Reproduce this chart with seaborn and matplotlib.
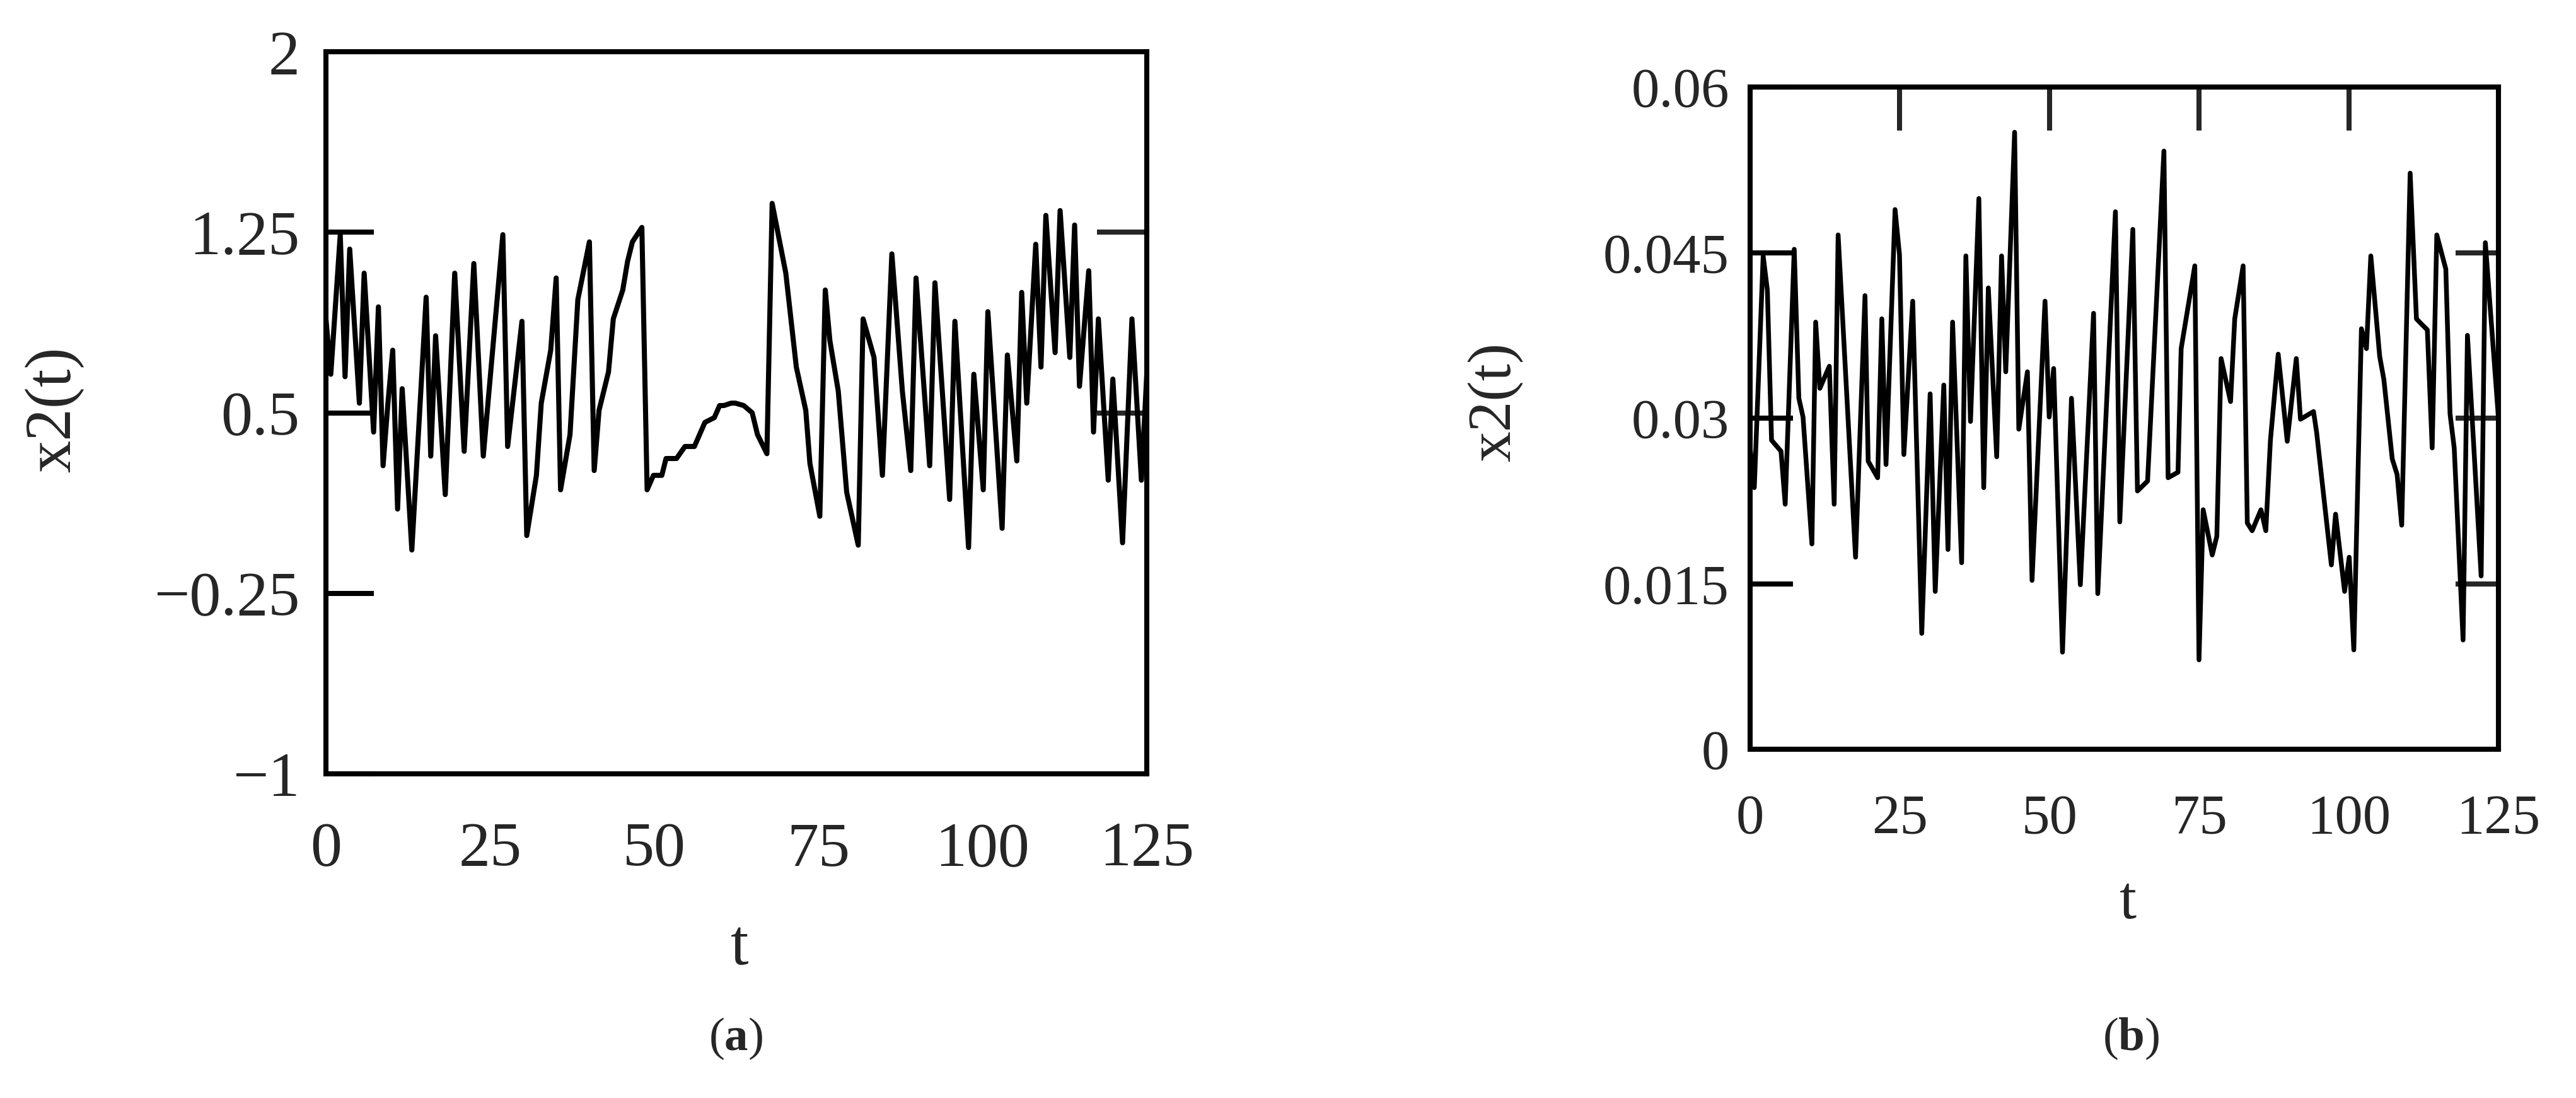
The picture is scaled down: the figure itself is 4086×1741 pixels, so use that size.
import numpy as np
import pandas as pd
import matplotlib
matplotlib.use("Agg")
import matplotlib.pyplot as plt
import seaborn as sns

# ---------------- data ----------------
t_a = [0.00, 0.74, 2.18, 2.91, 3.62, 5.09, 5.82, 7.26, 7.99, 8.70,
       9.44, 10.17, 10.91, 11.61, 13.08, 15.26, 15.96, 16.70, 18.17, 19.61,
       21.05, 22.52, 23.96, 26.94, 27.67, 29.85, 30.58, 32.05, 32.79, 34.23,
       35.06, 35.73, 37.17, 38.36, 40.12, 40.85, 41.59, 43.03, 43.76, 45.20,
       45.94, 46.67, 48.11, 48.91, 49.87, 51.15, 51.79, 53.39, 54.67, 56.11,
       57.71, 59.15, 59.95, 60.59, 61.71, 62.35, 63.63, 64.91, 65.71, 67.15,
       67.95, 70.03, 71.63, 73.07, 73.70, 75.21, 76.04, 76.74, 78.02, 79.30,
       81.06, 81.80, 83.46, 84.74, 86.18, 87.78, 89.06, 89.86, 91.94, 92.74,
       94.98, 95.78, 97.86, 98.66, 100.10, 100.80, 102.97, 103.77, 105.21, 105.95,
       106.72, 108.09, 108.89, 109.63, 111.04, 111.80, 113.28, 114.01, 114.75, 116.16,
       116.89, 117.63, 119.13, 119.83, 121.31, 122.74, 124.18, 125.00]
x2_a = [0.89, 0.66, 1.24, 0.65, 1.18, 0.54, 1.08, 0.42, 0.94, 0.28,
        0.54, 0.76, 0.10, 0.60, -0.07, 0.98, 0.32, 0.82, 0.16, 1.08,
        0.34, 1.12, 0.32, 1.24, 0.36, 0.88, -0.01, 0.24, 0.54, 0.76,
        1.06, 0.18, 0.41, 0.97, 1.21, 0.26, 0.51, 0.67, 0.89, 1.01,
        1.13, 1.21, 1.27, 0.18, 0.24, 0.24, 0.31, 0.31, 0.36, 0.36,
        0.46, 0.48, 0.53, 0.53, 0.54, 0.54, 0.53, 0.50, 0.41, 0.33,
        1.37, 1.08, 0.69, 0.51, 0.29, 0.07, 1.01, 0.80, 0.59, 0.17,
        -0.05, 0.89, 0.73, 0.24, 1.16, 0.59, 0.26, 1.06, 0.28, 1.04,
        0.14, 0.88, -0.06, 0.66, 0.18, 0.92, 0.02, 0.74, 0.30, 1.00,
        0.54, 1.20, 0.69, 1.32, 0.75, 1.34, 0.73, 1.28, 0.61, 1.09,
        0.42, 0.89, 0.22, 0.64, -0.04, 0.89, 0.22, 0.66]

t_b = [0.00, 0.70, 2.18, 2.88, 3.58, 5.16, 5.86, 7.37, 8.14, 8.84,
       10.32, 10.95, 11.65, 13.23, 14.04, 14.70, 17.61, 19.19, 19.72, 21.30,
       22.00, 22.70, 24.21, 24.95, 25.68, 27.16, 28.67, 30.07, 30.92, 32.35,
       33.05, 33.82, 35.33, 36.04, 36.81, 38.21, 39.02, 39.79, 41.19, 42.00,
       42.70, 44.18, 44.88, 46.32, 47.09, 49.26, 49.96, 50.70, 52.18, 53.68,
       55.16, 57.37, 58.07, 61.02, 61.75, 63.93, 64.70, 66.39, 69.12, 69.82,
       71.47, 72.00, 74.28, 74.98, 75.68, 77.19, 77.96, 78.67, 80.25, 80.95,
       82.35, 83.05, 83.86, 85.33, 86.14, 86.91, 88.21, 89.72, 91.23, 91.93,
       94.11, 94.63, 97.09, 97.79, 99.30, 100.07, 100.84, 102.11, 102.95, 103.68,
       105.16, 105.86, 107.26, 108.07, 108.84, 110.25, 111.30, 112.18, 113.12, 113.93,
       114.70, 116.21, 116.91, 117.61, 119.09, 119.82, 122.11, 122.81, 125.00]
x2_b = [0.0273, 0.0237, 0.0447, 0.0416, 0.0280, 0.0270, 0.0222, 0.0453, 0.0318, 0.0301,
        0.0186, 0.0387, 0.0327, 0.0347, 0.0222, 0.0466, 0.0174, 0.0411, 0.0261, 0.0246,
        0.0390, 0.0258, 0.0489, 0.0448, 0.0267, 0.0406, 0.0105, 0.0322, 0.0143, 0.0330,
        0.0181, 0.0387, 0.0169, 0.0447, 0.0297, 0.0499, 0.0237, 0.0418, 0.0265, 0.0447,
        0.0342, 0.0559, 0.0290, 0.0342, 0.0153, 0.0406, 0.0301, 0.0345, 0.0088, 0.0318,
        0.0149, 0.0395, 0.0141, 0.0487, 0.0206, 0.0471, 0.0234, 0.0243, 0.0542, 0.0246,
        0.0251, 0.0363, 0.0438, 0.0081, 0.0217, 0.0176, 0.0193, 0.0354, 0.0315, 0.0390,
        0.0438, 0.0205, 0.0198, 0.0217, 0.0198, 0.0280, 0.0358, 0.0279, 0.0354, 0.0299,
        0.0306, 0.0287, 0.0167, 0.0213, 0.0143, 0.0174, 0.0090, 0.0381, 0.0363, 0.0447,
        0.0356, 0.0335, 0.0263, 0.0249, 0.0203, 0.0522, 0.0390, 0.0385, 0.0380, 0.0273,
        0.0466, 0.0435, 0.0304, 0.0273, 0.0099, 0.0375, 0.0157, 0.0459, 0.0300]

x_ticks = [0, 25, 50, 75, 100, 125]
x_ticklabels = ["0", "25", "50", "75", "100", "125"]
ya_ticks = [-1, -0.25, 0.5, 1.25, 2]
ya_ticklabels = ["\u22121", "\u22120.25", "0.5", "1.25", "2"]
yb_ticks = [0, 0.015, 0.03, 0.045, 0.06]
yb_ticklabels = ["0", "0.015", "0.03", "0.045", "0.06"]

assert len(t_a) == len(x2_a) and len(t_b) == len(x2_b)

# ---------------- style ----------------
sns.set_style("white")
plt.rcParams['font.family'] = ['Liberation Serif', 'DejaVu Serif']
plt.rcParams['mathtext.fontset'] = 'custom'
plt.rcParams['mathtext.rm'] = 'Liberation Serif'
plt.rcParams['mathtext.bf'] = 'Liberation Serif:bold'

W, H = 4086, 1741
fig = plt.figure(figsize=(W / 100, H / 100), dpi=100)
fig.patch.set_facecolor('white')

axa = fig.add_axes([517 / W, 1 - 1227 / H, 1302 / W, 1145 / H])
axb = fig.add_axes([2776 / W, 1 - 1188 / H, 1187 / W, 1050 / H])

LW = 5.8
df_a = pd.DataFrame({"t": t_a, "x2": x2_a})
df_b = pd.DataFrame({"t": t_b, "x2": x2_b})
sns.lineplot(data=df_a, x="t", y="x2", ax=axa, color="black", lw=LW,
             estimator=None, sort=False, solid_joinstyle="round", solid_capstyle="round")
sns.lineplot(data=df_b, x="t", y="x2", ax=axb, color="black", lw=5.4,
             estimator=None, sort=False, solid_joinstyle="round", solid_capstyle="round")


def style_axes(ax, yticks, yticklabels, ylim, fs, tick_len, ypad, xpad):
    ax.set_xlim(0, 125)
    ax.set_ylim(*ylim)
    ax.set_xticks(x_ticks)
    ax.set_xticklabels(x_ticklabels)
    ax.set_yticks(yticks)
    ax.set_yticklabels(yticklabels)
    for s in ax.spines.values():
        s.set_visible(True)
        s.set_linewidth(LW)
        s.set_color("black")
        s.set_capstyle("projecting")
    ax.tick_params(axis="y", direction="in", length=tick_len, width=LW, color="black",
                   left=True, right=False, labelsize=fs, pad=ypad)
    ax.tick_params(axis="x", direction="in", length=0, width=LW, color="black",
                   bottom=True, top=False, labelsize=fs, pad=xpad)
    ax.grid(False)


style_axes(axa, ya_ticks, ya_ticklabels, (-1, 2), 72, 55, 30, 55)
style_axes(axb, yb_ticks, yb_ticklabels, (0, 0.06), 64, 49, 24, 51)

# right-hand / top tick marks (Mathcad-style boxed axes)
sec_a = axa.secondary_yaxis("right")
sec_a.set_yticks([0.5, 1.25])
sec_a.tick_params(direction="in", length=57, width=LW, labelright=False)
sec_a.spines["right"].set_linewidth(LW)

sec_b = axb.secondary_yaxis("right")
sec_b.set_yticks([0.015, 0.03, 0.045])
sec_b.tick_params(direction="in", length=49, width=LW, labelright=False)
sec_b.spines["right"].set_linewidth(LW)

top_b = axb.secondary_xaxis("top")
top_b.set_xticks([25, 50, 75, 100])
top_b.tick_params(direction="in", length=50, width=LW, labeltop=False)
top_b.spines["top"].set_linewidth(LW)

# axis labels
axa.set_xlabel("t", fontsize=74)
axa.set_ylabel("x2(t)", fontsize=74)
axa.xaxis.label.set_va("center")
axa.yaxis.label.set_va("center")
axa.xaxis.set_label_coords(0.504, -0.242)
axa.yaxis.set_label_coords(-0.331, 0.505)

axb.set_xlabel("t", fontsize=70)
axb.set_ylabel("x2(t)", fontsize=70)
axb.xaxis.label.set_va("center")
axb.yaxis.label.set_va("center")
axb.xaxis.set_label_coords(0.505, -0.233)
axb.yaxis.set_label_coords(-0.340, 0.524)

# panel captions
fig.text(1167 / W, 1 - 1647 / H, r"($\mathbf{a}$)", ha="center", va="center", fontsize=54)
fig.text(3380 / W, 1 - 1647 / H, r"($\mathbf{b}$)", ha="center", va="center", fontsize=54)

fig.savefig("out.png", dpi=100, facecolor="white")
